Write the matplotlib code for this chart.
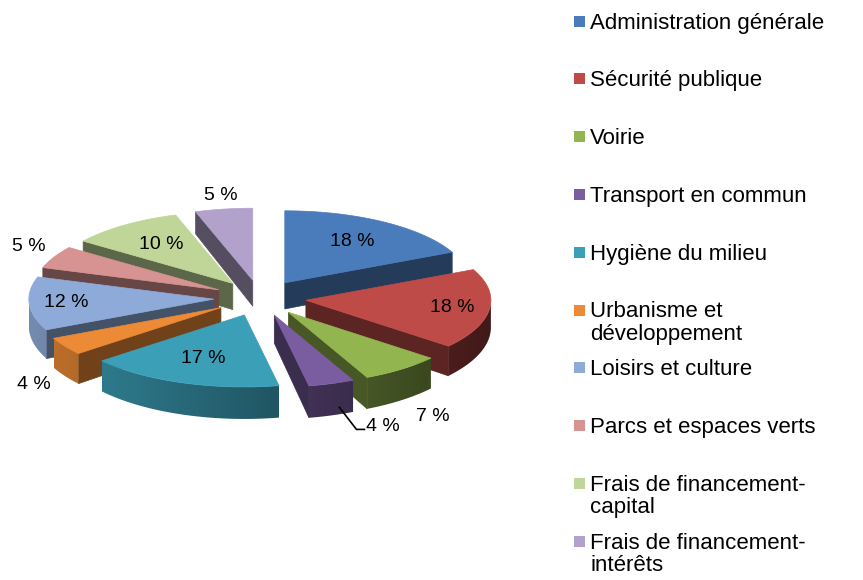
import numpy as np
import matplotlib.pyplot as plt
from matplotlib.patches import Polygon, Rectangle
from matplotlib.colors import to_rgb

# ---- data -------------------------------------------------------------
categories = ["Administration générale", "Sécurité publique", "Voirie",
              "Transport en commun", "Hygiène du milieu",
              "Urbanisme et\ndéveloppement", "Loisirs et culture",
              "Parcs et espaces verts", "Frais de financement-\ncapital",
              "Frais de financement-\nintérêts"]
values = [18, 18, 7, 4, 17, 4, 12, 5, 10, 5]
colors = ["#4a7bbb", "#bf4b48", "#93b54f", "#7a5da0", "#3c9fb8",
          "#ec8a36", "#8eaad8", "#d69391", "#c0d598", "#b2a2cb"]

# label radius (in pie radii) for each slice, >1 means outside
label_r = [0.68, 0.8, 1.27, 1.0, 0.65, 1.2, 0.8, 1.15, 0.66, 1.1]

# ---- canvas in pixel units --------------------------------------------
W, H = 863, 580
fig = plt.figure(figsize=(W / 100, H / 100), dpi=100)
ax = fig.add_axes([0, 0, 1, 1])
ax.set_xlim(0, W)
ax.set_ylim(H, 0)
ax.axis('off')

cx, cy = 260, 298      # centre of the top face
rx, ry = 185, 72       # ellipse half axes
thick = 27             # slice height at the centre
explode = 0.25


def proj(u, v, z):
    # u to the right, v to the back, z=1 top face / z=0 bottom face
    return cx + u * rx, cy - v * ry + (1 - z) * thick * (1 - 0.15 * v)


fracs = np.array(values) / sum(values)
ends = 90 - 360 * np.cumsum(fracs)
starts = ends + 360 * fracs
mids = np.radians((starts + ends) / 2)

# back slices first
order = np.argsort(-np.sin(mids))

for rank, i in enumerate(order):
    a1, a2 = np.radians(starts[i]), np.radians(ends[i])
    ou, ov = explode * np.cos(mids[i]), explode * np.sin(mids[i])
    base = np.array(to_rgb(colors[i]))
    z0 = 10 + rank * 5
    dark = tuple(base * 0.48)

    # radial faces
    for a, vis in ((a2, np.cos(a2) > 1e-6), (a1, np.cos(a1) < -1e-6)):
        if vis:
            pts = [proj(ou, ov, 1), proj(ou + np.cos(a), ov + np.sin(a), 1),
                   proj(ou + np.cos(a), ov + np.sin(a), 0), proj(ou, ov, 0)]
            ax.add_patch(Polygon(pts, closed=True, facecolor=dark,
                                 edgecolor=dark, lw=0.5, zorder=z0))

    # outer wall, front part only
    lo, hi = max(a2, -np.pi), min(a1, 0.0)
    if hi > lo:
        t = np.linspace(lo, hi, 80)
        top = [proj(ou + np.cos(k), ov + np.sin(k), 1) for k in t]
        bot = [proj(ou + np.cos(k), ov + np.sin(k), 0) for k in t]
        pts = top + bot[::-1]
        shade = 0.58 - 0.24 * np.cos(t)
        wall = Polygon(pts, closed=True, facecolor='none',
                       edgecolor='none', zorder=z0 + 1)
        ax.add_patch(wall)
        xs = np.array([p[0] for p in top])
        ys = np.array([p[1] for p in pts])
        gx = np.linspace(xs.min(), xs.max(), 200)
        img = np.clip(np.interp(gx, xs, shade)[:, None] * base[None, :], 0, 1)
        im = ax.imshow(img[None, :, :], extent=[gx[0], gx[-1], ys.max() + 1,
                                                ys.min() - 1],
                       aspect='auto', zorder=z0 + 1, interpolation='bilinear')
        im.set_clip_path(wall)

    # top face
    t = np.linspace(a2, a1, 80)
    pts = [proj(ou, ov, 1)] + [proj(ou + np.cos(k), ov + np.sin(k), 1)
                               for k in t]
    ax.add_patch(Polygon(pts, closed=True, facecolor=colors[i],
                         edgecolor=colors[i], lw=0.5, zorder=z0 + 2))

# ---- percentage labels ------------------------------------------------
for i, v in enumerate(values):
    m = mids[i]
    r = explode + label_r[i]
    txt = f"{v} %"
    if i == 3:
        # leader line for the small transport slice
        x0, y0 = proj(np.cos(m) * r, np.sin(m) * r, 0)
        ax.plot([x0 + 8, x0 + 25, x0 + 33], [y0 - 8, y0 + 14, y0 + 14],
                color='black', lw=1.2, zorder=200)
        ax.text(x0 + 35, y0 + 11, txt, fontsize=14, family='Liberation Sans',
                ha='left', va='center', zorder=201)
        continue
    outside = label_r[i] > 1
    z = 0 if (outside and np.sin(m) < 0) else 1
    x, y = proj(r * np.cos(m), r * np.sin(m), z)
    if outside and np.sin(m) > 0:
        y -= 6
    ax.text(x, y, txt, fontsize=14, family='Liberation Sans',
            ha='center', va='center', zorder=201)

# ---- legend -----------------------------------------------------------
for i, name in enumerate(categories):
    yb = 28.5 + i * 57.8
    ax.add_patch(Rectangle((574, yb - 13), 11, 11, facecolor=colors[i],
                           edgecolor='none', zorder=300))
    nl = name.count("\n")
    ax.text(590, yb + 22.5 * nl, name, fontsize=16, family='Liberation Sans',
            ha='left', va='baseline', linespacing=1.1, zorder=300)

fig.savefig("out.png", dpi=100)
